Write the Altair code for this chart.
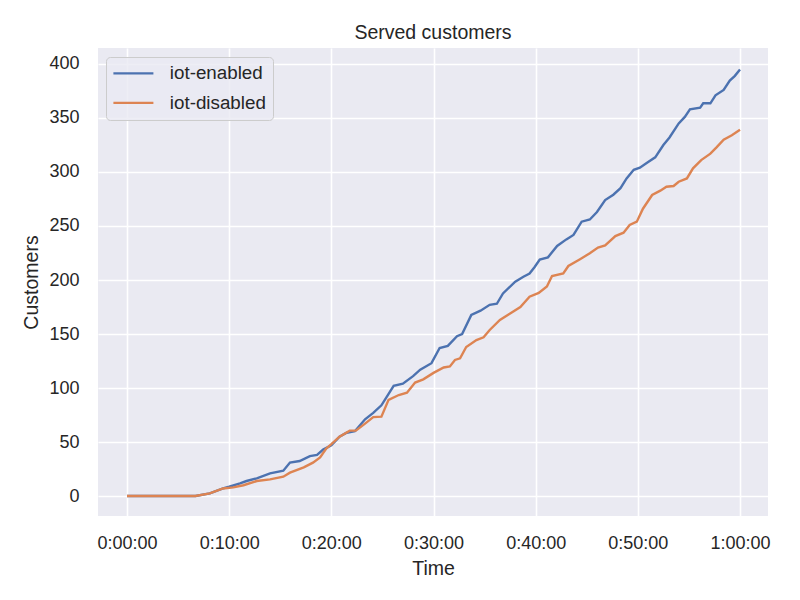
import altair as alt
import pandas as pd

# Time in minutes, served customers (cumulative)
enabled_t = [0, 6.7, 8.1, 9.4, 10.0, 11.06, 11.7, 12.7, 14.0, 15.3, 15.95, 16.9, 17.9, 18.6, 19.2,
             20.0, 20.8, 21.5, 22.3, 23.3, 24.1, 24.9, 26.1, 27.0, 28.0, 28.7, 29.8, 30.6, 31.4, 32.3,
             32.8, 33.7, 34.6, 35.5, 36.2, 36.8, 38.0, 38.8, 39.4, 39.9, 40.4, 41.2, 42.1, 43.0, 43.7,
             44.5, 45.3, 46.0, 46.8, 47.6, 48.3, 48.9, 49.6, 50.2, 50.9, 51.7, 52.5, 53.1, 54.0, 54.6,
             55.1, 56.1, 56.4, 57.1, 57.6, 58.4, 59.0, 59.5, 60.0]
enabled_v = [0, 0, 2.5, 7, 8.6, 11.7, 13.9, 16.4, 21, 23.5, 31, 32.4, 37, 38, 43,
             47, 55, 58.6, 60, 71, 77, 84, 102, 104, 111, 117, 123, 137, 139, 148,
             150, 167.6, 171.6, 177, 178, 187.6, 198.5, 203, 206, 212, 219, 221, 231.5, 237.6, 241.7,
             254, 256, 263, 274, 279, 285, 294, 302, 304, 308.6, 313.6, 325, 332, 345, 351,
             358, 359.6, 363.6, 363.6, 371, 376, 384.6, 389, 395]

disabled_t = [0, 6.7, 8.1, 9.4, 10.4, 11.4, 12.7, 14.0, 15.3, 15.95, 17.3, 18.2, 18.9, 19.5, 20.0,
              20.8, 21.8, 22.4, 23.3, 24.1, 24.9, 25.6, 26.6, 27.4, 28.2, 29.0, 30.0, 31.0, 31.6, 32.1,
              32.6, 33.2, 34.2, 34.9, 35.5, 36.5, 37.5, 38.5, 39.4, 40.3, 41.1, 41.6, 42.7, 43.2, 44.3,
              45.3, 46.1, 46.8, 47.8, 48.6, 49.2, 49.9, 50.5, 51.4, 52.2, 52.8, 53.5, 54.0, 54.8, 55.4,
              56.2, 57.1, 57.7, 58.4, 59.2, 60.0]
disabled_v = [0, 0, 2.5, 7, 8, 10, 13.9, 15.4, 17.9, 21.6, 26.5, 30.9, 35.8, 44, 48,
              55, 60.5, 60.5, 67, 73, 73.5, 89, 93.5, 95.7, 105, 108, 114, 119, 120, 126,
              127.5, 138, 144.4, 147, 153.7, 163, 169, 175, 184.5, 188, 194, 203.7, 206, 213, 219,
              224.7, 230, 232, 240.7, 243.8, 251, 254, 266, 278.7, 282.7, 286.4, 287, 291, 294, 303.4,
              311, 317, 322.8, 330, 334, 339]

series_names = ["iot-enabled", "iot-disabled"]
series_colors = ["#4C72B0", "#DD8452"]
x_ticks = [0, 10, 20, 30, 40, 50, 60]
y_ticks = [0, 50, 100, 150, 200, 250, 300, 350, 400]

df = pd.concat([
    pd.DataFrame({"t": enabled_t, "v": enabled_v, "series": series_names[0], "k": range(len(enabled_t))}),
    pd.DataFrame({"t": disabled_t, "v": disabled_v, "series": series_names[1], "k": range(len(disabled_t))}),
])

FONT = "Liberation Sans"
TXT = "#262626"

chart = alt.Chart(df).mark_line(strokeWidth=2.4, clip=True).encode(
    x=alt.X("t:Q",
            scale=alt.Scale(domain=[-2.84, 62.74], nice=False, zero=False),
            axis=alt.Axis(values=x_ticks, title="Time",
                          labelExpr="datum.value == 60 ? '1:00:00' : '0:' + (datum.value < 10 ? '0' : '') + datum.value + ':00'",
                          labelPadding=18, titleX=335, titleY=58, titleBaseline="alphabetic",
                          titleAlign="center")),
    y=alt.Y("v:Q",
            scale=alt.Scale(domain=[-18.5, 414.8], nice=False, zero=False),
            axis=alt.Axis(values=y_ticks, title="Customers", labelPadding=19,
                          titleX=-61, titleY=234, titleBaseline="alphabetic",
                          titleAlign="center", titleAngle=270)),
    color=alt.Color("series:N", sort=series_names,
                    scale=alt.Scale(domain=series_names, range=series_colors),
                    legend=alt.Legend(title=None, orient="none", legendX=8, legendY=9,
                                      symbolType="M-4,0L4,0", symbolSize=100, symbolStrokeWidth=2.4,
                                      symbolOffset=11, labelOffset=27, rowPadding=9.5, padding=7,
                                      fillColor="rgba(234,234,242,0.8)", strokeColor="#CCCCCC",
                                      cornerRadius=4, labelFontSize=18.8, labelFont=FONT,
                                      labelColor=TXT)),
    order="k:Q",
).properties(
    width=670, height=468,
    background="white",
    title=alt.TitleParams("Served customers", fontSize=19.5, font=FONT, fontWeight="normal",
                          color=TXT, anchor="middle", baseline="alphabetic", offset=-10),
    autosize=alt.AutoSizeParams(type="none"),
    padding={"left": 90, "top": 40, "right": 24, "bottom": 76},
).configure_view(
    fill="#EAEAF2", strokeWidth=0
).configure_axis(
    domain=False, ticks=False, tickSize=0, grid=True, gridColor="white", gridWidth=1.6,
    labelFont=FONT, labelFontSize=18, labelColor=TXT,
    titleFont=FONT, titleFontSize=19.5, titleColor=TXT, titleFontWeight="normal"
)

chart.save("out.html", embed_options={"renderer": "svg", "actions": False})
